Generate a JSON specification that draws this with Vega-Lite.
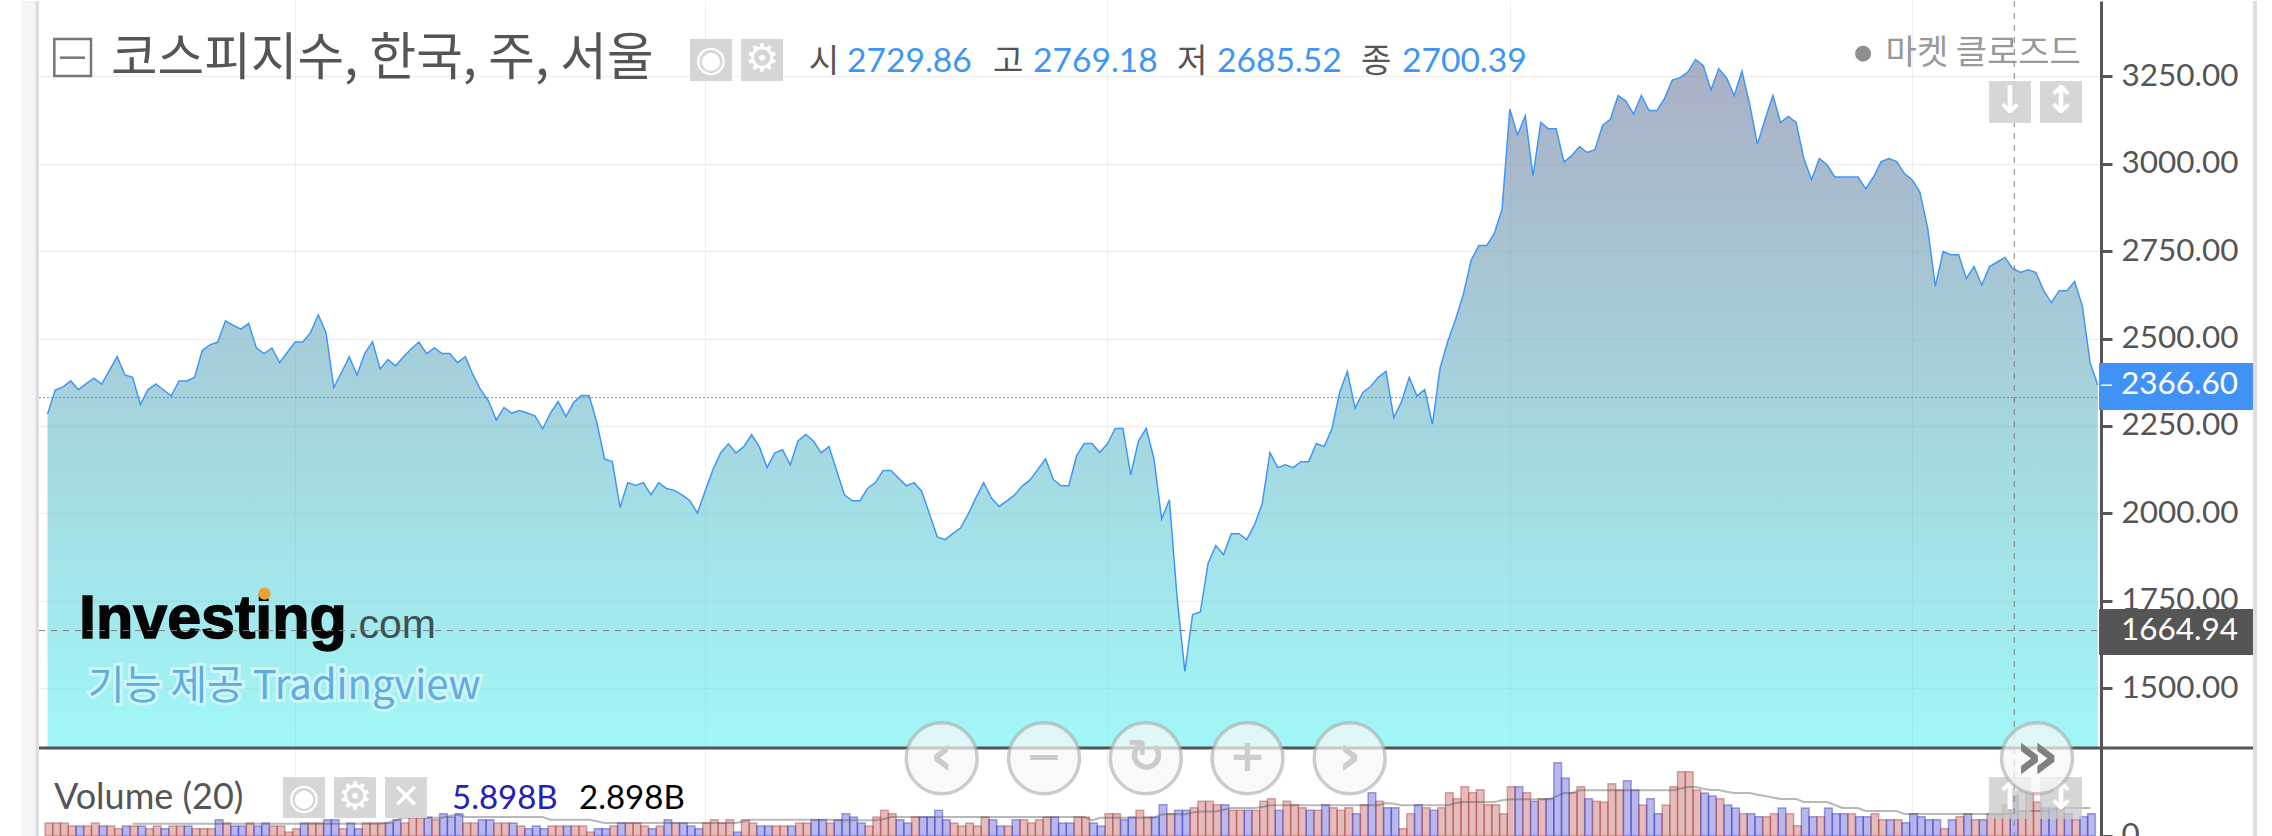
{"$schema":"https://vega.github.io/schema/vega-lite/v6.json","background":"#ffffff","padding":{"left":20,"top":0,"right":0,"bottom":0},"bounds":"flush","spacing":0,"config":{"view":{"stroke":null},"axis":{"labelFont":"Lato","labelFontSize":31.5,"labelColor":"#555555","domainColor":"#555555","domainWidth":3,"tickColor":"#555555","tickWidth":3,"tickSize":11,"labelPadding":9}},
"datasets":{"one":[{}],"weekly":[
{"week":0,"date":"2017-05-22","close":2284,"volume":1.84,"dir":"up"},{"week":1,"date":"2017-05-29","close":2353,"volume":1.84,"dir":"up"},{"week":2,"date":"2017-06-05","close":2362,"volume":1.84,"dir":"up"},{"week":3,"date":"2017-06-12","close":2379,"volume":1.40,"dir":"up"},{"week":4,"date":"2017-06-19","close":2354,"volume":1.40,"dir":"down"},{"week":5,"date":"2017-06-26","close":2371,"volume":1.40,"dir":"up"},{"week":6,"date":"2017-07-03","close":2387,"volume":1.84,"dir":"up"},{"week":7,"date":"2017-07-10","close":2370,"volume":1.40,"dir":"down"},{"week":8,"date":"2017-07-17","close":2409,"volume":1.40,"dir":"up"},{"week":9,"date":"2017-07-24","close":2449,"volume":1.01,"dir":"up"},
{"week":10,"date":"2017-07-31","close":2396,"volume":1.40,"dir":"down"},{"week":11,"date":"2017-08-07","close":2389,"volume":1.40,"dir":"up","ma":1.74},{"week":12,"date":"2017-08-14","close":2312,"volume":1.40,"dir":"down","ma":1.74},{"week":13,"date":"2017-08-21","close":2354,"volume":1.01,"dir":"up","ma":1.74},{"week":14,"date":"2017-08-28","close":2370,"volume":1.40,"dir":"up","ma":1.74},{"week":15,"date":"2017-09-04","close":2353,"volume":1.01,"dir":"down","ma":1.74},{"week":16,"date":"2017-09-11","close":2336,"volume":1.40,"dir":"up","ma":1.74},{"week":17,"date":"2017-09-18","close":2379,"volume":1.40,"dir":"up","ma":1.74},{"week":18,"date":"2017-09-25","close":2379,"volume":1.40,"dir":"down","ma":1.74},{"week":19,"date":"2017-10-02","close":2389,"volume":1.01,"dir":"up","ma":1.74},
{"week":20,"date":"2017-10-09","close":2466,"volume":1.01,"dir":"up","ma":1.74},{"week":21,"date":"2017-10-16","close":2482,"volume":1.01,"dir":"up","ma":1.74},{"week":22,"date":"2017-10-23","close":2490,"volume":2.34,"dir":"down","ma":1.74},{"week":23,"date":"2017-10-30","close":2551,"volume":1.84,"dir":"up","ma":1.74},{"week":24,"date":"2017-11-06","close":2538,"volume":1.40,"dir":"down","ma":1.74},{"week":25,"date":"2017-11-13","close":2527,"volume":1.40,"dir":"down","ma":1.74},{"week":26,"date":"2017-11-20","close":2543,"volume":1.84,"dir":"up","ma":1.74},{"week":27,"date":"2017-11-27","close":2473,"volume":1.40,"dir":"down","ma":1.74},{"week":28,"date":"2017-12-04","close":2457,"volume":1.84,"dir":"down","ma":1.74},{"week":29,"date":"2017-12-11","close":2473,"volume":1.40,"dir":"up","ma":1.74},
{"week":30,"date":"2017-12-18","close":2431,"volume":1.40,"dir":"up","ma":1.74},{"week":31,"date":"2017-12-25","close":2461,"volume":0.52,"dir":"up","ma":1.74},{"week":32,"date":"2018-01-01","close":2490,"volume":1.01,"dir":"up","ma":1.74},{"week":33,"date":"2018-01-08","close":2490,"volume":1.84,"dir":"down","ma":1.74},{"week":34,"date":"2018-01-15","close":2517,"volume":1.84,"dir":"up","ma":1.74},{"week":35,"date":"2018-01-22","close":2568,"volume":1.84,"dir":"up","ma":1.74},{"week":36,"date":"2018-01-29","close":2517,"volume":2.34,"dir":"down","ma":1.74},{"week":37,"date":"2018-02-05","close":2360,"volume":2.34,"dir":"down","ma":1.74},{"week":38,"date":"2018-02-12","close":2403,"volume":1.01,"dir":"up","ma":1.74},{"week":39,"date":"2018-02-19","close":2448,"volume":1.84,"dir":"down","ma":1.74},
{"week":40,"date":"2018-02-26","close":2396,"volume":1.01,"dir":"down","ma":1.74},{"week":41,"date":"2018-03-05","close":2457,"volume":1.84,"dir":"up","ma":1.74},{"week":42,"date":"2018-03-12","close":2491,"volume":1.84,"dir":"up","ma":1.74},{"week":43,"date":"2018-03-19","close":2413,"volume":1.84,"dir":"up","ma":1.74},{"week":44,"date":"2018-03-26","close":2440,"volume":1.84,"dir":"down","ma":1.9},{"week":45,"date":"2018-04-02","close":2422,"volume":2.34,"dir":"down","ma":2.24},{"week":46,"date":"2018-04-09","close":2448,"volume":1.84,"dir":"up","ma":2.63},{"week":47,"date":"2018-04-16","close":2470,"volume":2.73,"dir":"up","ma":2.63},{"week":48,"date":"2018-04-23","close":2490,"volume":2.73,"dir":"up","ma":2.63},{"week":49,"date":"2018-04-30","close":2457,"volume":2.73,"dir":"down","ma":2.63},
{"week":50,"date":"2018-05-07","close":2473,"volume":2.34,"dir":"up","ma":2.63},{"week":51,"date":"2018-05-14","close":2457,"volume":3.22,"dir":"down","ma":2.63},{"week":52,"date":"2018-05-21","close":2457,"volume":2.73,"dir":"down","ma":2.9},{"week":53,"date":"2018-05-28","close":2431,"volume":3.22,"dir":"down","ma":3.07},{"week":54,"date":"2018-06-04","close":2448,"volume":1.84,"dir":"up","ma":2.73},{"week":55,"date":"2018-06-11","close":2396,"volume":1.84,"dir":"up","ma":2.73},{"week":56,"date":"2018-06-18","close":2353,"volume":2.34,"dir":"down","ma":2.73},{"week":57,"date":"2018-06-25","close":2322,"volume":2.34,"dir":"down","ma":2.73},{"week":58,"date":"2018-07-02","close":2267,"volume":1.84,"dir":"up","ma":2.73},{"week":59,"date":"2018-07-09","close":2303,"volume":1.84,"dir":"up","ma":2.73},
{"week":60,"date":"2018-07-16","close":2287,"volume":1.84,"dir":"down","ma":2.73},{"week":61,"date":"2018-07-23","close":2294,"volume":1.40,"dir":"up","ma":2.73},{"week":62,"date":"2018-07-30","close":2287,"volume":1.01,"dir":"down","ma":2.73},{"week":63,"date":"2018-08-06","close":2279,"volume":1.40,"dir":"down","ma":2.73},{"week":64,"date":"2018-08-13","close":2242,"volume":1.01,"dir":"down","ma":2.73},{"week":65,"date":"2018-08-20","close":2287,"volume":1.40,"dir":"up","ma":2.34},{"week":66,"date":"2018-08-27","close":2320,"volume":1.40,"dir":"up","ma":2.34},{"week":67,"date":"2018-09-03","close":2277,"volume":1.40,"dir":"down","ma":2.34},{"week":68,"date":"2018-09-10","close":2317,"volume":1.40,"dir":"up","ma":2.34},{"week":69,"date":"2018-09-17","close":2337,"volume":1.40,"dir":"up","ma":2.34},
{"week":70,"date":"2018-09-24","close":2337,"volume":0.52,"dir":"up","ma":2.34},{"week":71,"date":"2018-10-01","close":2260,"volume":1.01,"dir":"down","ma":2.1},{"week":72,"date":"2018-10-08","close":2156,"volume":1.01,"dir":"down","ma":1.84},{"week":73,"date":"2018-10-15","close":2148,"volume":1.40,"dir":"up","ma":1.84},{"week":74,"date":"2018-10-22","close":2017,"volume":1.84,"dir":"down","ma":1.84},{"week":75,"date":"2018-10-29","close":2088,"volume":1.84,"dir":"up","ma":1.84},{"week":76,"date":"2018-11-05","close":2080,"volume":1.84,"dir":"up","ma":1.84},{"week":77,"date":"2018-11-12","close":2088,"volume":1.40,"dir":"up","ma":1.84},{"week":78,"date":"2018-11-19","close":2053,"volume":1.01,"dir":"down","ma":1.84},{"week":79,"date":"2018-11-26","close":2088,"volume":1.40,"dir":"up","ma":1.84},
{"week":80,"date":"2018-12-03","close":2071,"volume":2.34,"dir":"down","ma":1.84},{"week":81,"date":"2018-12-10","close":2066,"volume":1.84,"dir":"up","ma":1.84},{"week":82,"date":"2018-12-17","close":2053,"volume":1.84,"dir":"down","ma":1.84},{"week":83,"date":"2018-12-24","close":2037,"volume":1.40,"dir":"down","ma":1.84},{"week":84,"date":"2018-12-31","close":2001,"volume":1.01,"dir":"down","ma":1.84},{"week":85,"date":"2019-01-07","close":2064,"volume":1.84,"dir":"up","ma":1.84},{"week":86,"date":"2019-01-14","close":2125,"volume":2.34,"dir":"up","ma":1.84},{"week":87,"date":"2019-01-21","close":2173,"volume":1.84,"dir":"up","ma":1.84},{"week":88,"date":"2019-01-28","close":2199,"volume":2.34,"dir":"up","ma":1.84},{"week":89,"date":"2019-02-04","close":2173,"volume":0.52,"dir":"down","ma":1.84},
{"week":90,"date":"2019-02-11","close":2191,"volume":2.34,"dir":"up","ma":2.1},{"week":91,"date":"2019-02-18","close":2225,"volume":1.84,"dir":"up","ma":2.34},{"week":92,"date":"2019-02-25","close":2191,"volume":1.40,"dir":"down","ma":2.34},{"week":93,"date":"2019-03-04","close":2131,"volume":1.40,"dir":"down","ma":2.34},{"week":94,"date":"2019-03-11","close":2173,"volume":1.40,"dir":"up","ma":2.34},{"week":95,"date":"2019-03-18","close":2182,"volume":1.40,"dir":"up","ma":2.34},{"week":96,"date":"2019-03-25","close":2139,"volume":1.40,"dir":"down","ma":2.34},{"week":97,"date":"2019-04-01","close":2207,"volume":1.84,"dir":"up","ma":2.34},{"week":98,"date":"2019-04-08","close":2226,"volume":1.84,"dir":"up","ma":2.34},{"week":99,"date":"2019-04-15","close":2207,"volume":2.34,"dir":"down","ma":2.34},
{"week":100,"date":"2019-04-22","close":2173,"volume":2.34,"dir":"down","ma":2.34},{"week":101,"date":"2019-04-29","close":2191,"volume":1.84,"dir":"up","ma":2.34},{"week":102,"date":"2019-05-06","close":2122,"volume":2.34,"dir":"down","ma":2.24},{"week":103,"date":"2019-05-13","close":2053,"volume":3.22,"dir":"down","ma":2.24},{"week":104,"date":"2019-05-20","close":2036,"volume":2.73,"dir":"down","ma":2.24},{"week":105,"date":"2019-05-27","close":2036,"volume":1.84,"dir":"down","ma":2.24},{"week":106,"date":"2019-06-03","close":2072,"volume":1.40,"dir":"up","ma":2.24},{"week":107,"date":"2019-06-10","close":2088,"volume":2.73,"dir":"up","ma":2.24},{"week":108,"date":"2019-06-17","close":2123,"volume":3.71,"dir":"up","ma":2.4},{"week":109,"date":"2019-06-24","close":2123,"volume":3.22,"dir":"up","ma":2.73},
{"week":110,"date":"2019-07-01","close":2101,"volume":2.34,"dir":"down","ma":2.73},{"week":111,"date":"2019-07-08","close":2079,"volume":1.84,"dir":"down","ma":2.73},{"week":112,"date":"2019-07-15","close":2088,"volume":2.73,"dir":"up","ma":2.73},{"week":113,"date":"2019-07-22","close":2063,"volume":2.73,"dir":"down","ma":2.73},{"week":114,"date":"2019-07-29","close":1998,"volume":2.73,"dir":"down","ma":2.73},{"week":115,"date":"2019-08-05","close":1933,"volume":3.71,"dir":"down","ma":2.73},{"week":116,"date":"2019-08-12","close":1925,"volume":2.34,"dir":"down","ma":2.73},{"week":117,"date":"2019-08-19","close":1942,"volume":1.84,"dir":"up","ma":2.73},{"week":118,"date":"2019-08-26","close":1958,"volume":1.40,"dir":"up","ma":2.73},{"week":119,"date":"2019-09-02","close":1998,"volume":1.84,"dir":"up","ma":2.73},
{"week":120,"date":"2019-09-09","close":2045,"volume":1.40,"dir":"up","ma":2.73},{"week":121,"date":"2019-09-16","close":2088,"volume":2.73,"dir":"up","ma":2.73},{"week":122,"date":"2019-09-23","close":2044,"volume":2.34,"dir":"down","ma":2.73},{"week":123,"date":"2019-09-30","close":2020,"volume":1.40,"dir":"down","ma":2.73},{"week":124,"date":"2019-10-07","close":2036,"volume":1.40,"dir":"up","ma":2.73},{"week":125,"date":"2019-10-14","close":2053,"volume":2.34,"dir":"down","ma":2.73},{"week":126,"date":"2019-10-21","close":2079,"volume":2.34,"dir":"up","ma":2.73},{"week":127,"date":"2019-10-28","close":2096,"volume":1.84,"dir":"up","ma":2.73},{"week":128,"date":"2019-11-04","close":2126,"volume":2.34,"dir":"up","ma":2.73},{"week":129,"date":"2019-11-11","close":2156,"volume":2.73,"dir":"up","ma":2.73},
{"week":130,"date":"2019-11-18","close":2097,"volume":2.73,"dir":"down","ma":2.73},{"week":131,"date":"2019-11-25","close":2079,"volume":1.84,"dir":"down","ma":2.73},{"week":132,"date":"2019-12-02","close":2079,"volume":1.84,"dir":"down","ma":2.73},{"week":133,"date":"2019-12-09","close":2165,"volume":2.73,"dir":"up","ma":2.73},{"week":134,"date":"2019-12-16","close":2200,"volume":2.73,"dir":"up","ma":2.73},{"week":135,"date":"2019-12-23","close":2200,"volume":1.84,"dir":"down","ma":2.24},{"week":136,"date":"2019-12-30","close":2174,"volume":1.40,"dir":"down","ma":2.63},{"week":137,"date":"2020-01-06","close":2200,"volume":3.22,"dir":"up","ma":2.63},{"week":138,"date":"2020-01-13","close":2243,"volume":3.22,"dir":"up","ma":2.63},{"week":139,"date":"2020-01-20","close":2243,"volume":2.34,"dir":"down","ma":2.63},
{"week":140,"date":"2020-01-27","close":2110,"volume":2.73,"dir":"down","ma":2.63},{"week":141,"date":"2020-02-03","close":2207,"volume":3.71,"dir":"up","ma":2.63},{"week":142,"date":"2020-02-10","close":2243,"volume":2.73,"dir":"up","ma":2.63},{"week":143,"date":"2020-02-17","close":2157,"volume":2.73,"dir":"down","ma":2.63},{"week":144,"date":"2020-02-24","close":1984,"volume":4.55,"dir":"down","ma":3.12},{"week":145,"date":"2020-03-02","close":2039,"volume":3.22,"dir":"up","ma":3.12},{"week":146,"date":"2020-03-09","close":1759,"volume":3.71,"dir":"down","ma":3.12},{"week":147,"date":"2020-03-16","close":1548,"volume":3.71,"dir":"down","ma":3.12},{"week":148,"date":"2020-03-23","close":1711,"volume":4.11,"dir":"up","ma":3.4},{"week":149,"date":"2020-03-30","close":1718,"volume":5.04,"dir":"up","ma":3.56},
{"week":150,"date":"2020-04-06","close":1857,"volume":5.04,"dir":"up","ma":3.56},{"week":151,"date":"2020-04-13","close":1908,"volume":4.55,"dir":"up","ma":3.56},{"week":152,"date":"2020-04-20","close":1882,"volume":4.55,"dir":"down","ma":3.8},{"week":153,"date":"2020-04-27","close":1942,"volume":3.71,"dir":"up","ma":4.06},{"week":154,"date":"2020-05-04","close":1942,"volume":3.71,"dir":"up","ma":4.06},{"week":155,"date":"2020-05-11","close":1925,"volume":3.71,"dir":"down","ma":4.06},{"week":156,"date":"2020-05-18","close":1967,"volume":3.71,"dir":"up","ma":4.06},{"week":157,"date":"2020-05-25","close":2028,"volume":5.04,"dir":"up","ma":4.2},{"week":158,"date":"2020-06-01","close":2174,"volume":5.43,"dir":"up","ma":4.45},{"week":159,"date":"2020-06-08","close":2131,"volume":3.71,"dir":"down","ma":4.45},
{"week":160,"date":"2020-06-15","close":2139,"volume":5.04,"dir":"up","ma":4.45},{"week":161,"date":"2020-06-22","close":2131,"volume":4.55,"dir":"up","ma":4.45},{"week":162,"date":"2020-06-29","close":2148,"volume":4.11,"dir":"up","ma":4.45},{"week":163,"date":"2020-07-06","close":2148,"volume":3.71,"dir":"down","ma":4.45},{"week":164,"date":"2020-07-13","close":2200,"volume":3.71,"dir":"up","ma":4.45},{"week":165,"date":"2020-07-20","close":2191,"volume":4.55,"dir":"down","ma":4.45},{"week":166,"date":"2020-07-27","close":2241,"volume":4.11,"dir":"up","ma":4.45},{"week":167,"date":"2020-08-03","close":2346,"volume":3.71,"dir":"up","ma":4.45},{"week":168,"date":"2020-08-10","close":2406,"volume":4.11,"dir":"up","ma":4.45},{"week":169,"date":"2020-08-17","close":2301,"volume":3.22,"dir":"down","ma":4.45},
{"week":170,"date":"2020-08-24","close":2346,"volume":4.55,"dir":"up","ma":4.45},{"week":171,"date":"2020-08-31","close":2363,"volume":6.32,"dir":"down","ma":4.45},{"week":172,"date":"2020-09-07","close":2389,"volume":5.04,"dir":"up","ma":4.45},{"week":173,"date":"2020-09-14","close":2406,"volume":4.11,"dir":"down","ma":4.8},{"week":174,"date":"2020-09-21","close":2274,"volume":4.11,"dir":"down","ma":4.7},{"week":175,"date":"2020-09-28","close":2319,"volume":1.01,"dir":"up","ma":4.45},{"week":176,"date":"2020-10-05","close":2389,"volume":3.22,"dir":"up","ma":4.45},{"week":177,"date":"2020-10-12","close":2336,"volume":4.55,"dir":"down","ma":4.45},{"week":178,"date":"2020-10-19","close":2354,"volume":4.11,"dir":"up","ma":4.45},{"week":179,"date":"2020-10-26","close":2255,"volume":3.71,"dir":"down","ma":4.45},
{"week":180,"date":"2020-11-02","close":2417,"volume":4.11,"dir":"up","ma":4.45},{"week":181,"date":"2020-11-09","close":2493,"volume":6.32,"dir":"up","ma":4.45},{"week":182,"date":"2020-11-16","close":2555,"volume":5.43,"dir":"up","ma":4.8},{"week":183,"date":"2020-11-23","close":2627,"volume":7.20,"dir":"up","ma":4.94},{"week":184,"date":"2020-11-30","close":2724,"volume":6.32,"dir":"up","ma":4.94},{"week":185,"date":"2020-12-07","close":2766,"volume":6.76,"dir":"up","ma":4.94},{"week":186,"date":"2020-12-14","close":2766,"volume":4.55,"dir":"up","ma":4.94},{"week":187,"date":"2020-12-21","close":2801,"volume":4.55,"dir":"up","ma":4.94},{"week":188,"date":"2020-12-28","close":2870,"volume":3.22,"dir":"up","ma":5.2},{"week":189,"date":"2021-01-04","close":3156,"volume":7.20,"dir":"up","ma":5.34},
{"week":190,"date":"2021-01-11","close":3082,"volume":7.20,"dir":"down","ma":5.34},{"week":191,"date":"2021-01-18","close":3137,"volume":6.32,"dir":"up","ma":5.34},{"week":192,"date":"2021-01-25","close":2965,"volume":5.04,"dir":"down","ma":5.34},{"week":193,"date":"2021-02-01","close":3118,"volume":5.43,"dir":"up","ma":5.34},{"week":194,"date":"2021-02-08","close":3100,"volume":5.43,"dir":"down","ma":5.34},{"week":195,"date":"2021-02-15","close":3100,"volume":10.74,"dir":"down","ma":5.78},{"week":196,"date":"2021-02-22","close":3005,"volume":8.48,"dir":"down","ma":6.27},{"week":197,"date":"2021-03-01","close":3023,"volume":6.32,"dir":"up","ma":6.27},{"week":198,"date":"2021-03-08","close":3049,"volume":7.20,"dir":"up","ma":6.66},{"week":199,"date":"2021-03-15","close":3032,"volume":5.43,"dir":"down","ma":6.66},
{"week":200,"date":"2021-03-22","close":3040,"volume":5.04,"dir":"up","ma":6.66},{"week":201,"date":"2021-03-29","close":3110,"volume":4.94,"dir":"up","ma":6.66},{"week":202,"date":"2021-04-05","close":3127,"volume":7.65,"dir":"up","ma":6.66},{"week":203,"date":"2021-04-12","close":3195,"volume":6.71,"dir":"up","ma":6.66},{"week":204,"date":"2021-04-19","close":3179,"volume":8.09,"dir":"down","ma":6.66},{"week":205,"date":"2021-04-26","close":3142,"volume":6.71,"dir":"down","ma":6.66},{"week":206,"date":"2021-05-03","close":3195,"volume":4.50,"dir":"up","ma":6.66},{"week":207,"date":"2021-05-10","close":3152,"volume":5.43,"dir":"down","ma":6.66},{"week":208,"date":"2021-05-17","close":3152,"volume":3.22,"dir":"down","ma":6.66},{"week":209,"date":"2021-05-24","close":3187,"volume":4.50,"dir":"up","ma":6.66},
{"week":210,"date":"2021-05-31","close":3239,"volume":7.20,"dir":"up","ma":6.66},{"week":211,"date":"2021-06-07","close":3246,"volume":9.41,"dir":"up","ma":6.9},{"week":212,"date":"2021-06-14","close":3262,"volume":9.41,"dir":"up","ma":7.15},{"week":213,"date":"2021-06-21","close":3298,"volume":6.71,"dir":"up","ma":7.15},{"week":214,"date":"2021-06-28","close":3281,"volume":6.27,"dir":"down","ma":6.9},{"week":215,"date":"2021-07-05","close":3211,"volume":5.83,"dir":"down","ma":6.71},{"week":216,"date":"2021-07-12","close":3272,"volume":5.43,"dir":"up","ma":6.71},{"week":217,"date":"2021-07-19","close":3246,"volume":4.50,"dir":"down","ma":6.45},{"week":218,"date":"2021-07-26","close":3195,"volume":4.06,"dir":"down","ma":6.27},{"week":219,"date":"2021-08-02","close":3265,"volume":3.22,"dir":"up","ma":6.27},
{"week":220,"date":"2021-08-09","close":3170,"volume":3.22,"dir":"down","ma":6.27},{"week":221,"date":"2021-08-16","close":3056,"volume":2.78,"dir":"down","ma":6.0},{"week":222,"date":"2021-08-23","close":3127,"volume":2.78,"dir":"up","ma":5.83},{"week":223,"date":"2021-08-30","close":3195,"volume":3.22,"dir":"up","ma":5.6},{"week":224,"date":"2021-09-06","close":3118,"volume":4.06,"dir":"down","ma":5.39},{"week":225,"date":"2021-09-13","close":3135,"volume":3.22,"dir":"up","ma":5.39},{"week":226,"date":"2021-09-20","close":3118,"volume":1.45,"dir":"up","ma":5.39},{"week":227,"date":"2021-09-27","close":3015,"volume":4.06,"dir":"down","ma":4.94},{"week":228,"date":"2021-10-04","close":2954,"volume":2.78,"dir":"down","ma":4.94},{"week":229,"date":"2021-10-11","close":3015,"volume":2.78,"dir":"up","ma":4.94},
{"week":230,"date":"2021-10-18","close":2997,"volume":4.06,"dir":"down","ma":4.94},{"week":231,"date":"2021-10-25","close":2962,"volume":3.22,"dir":"down","ma":4.5},{"week":232,"date":"2021-11-01","close":2962,"volume":3.22,"dir":"down","ma":4.06},{"week":233,"date":"2021-11-08","close":2962,"volume":3.22,"dir":"up","ma":4.06},{"week":234,"date":"2021-11-15","close":2962,"volume":2.78,"dir":"down","ma":4.06},{"week":235,"date":"2021-11-22","close":2928,"volume":2.78,"dir":"down","ma":3.61},{"week":236,"date":"2021-11-29","close":2962,"volume":3.22,"dir":"up","ma":3.61},{"week":237,"date":"2021-12-06","close":3006,"volume":2.34,"dir":"up","ma":3.61},{"week":238,"date":"2021-12-13","close":3015,"volume":2.34,"dir":"down","ma":3.61},{"week":239,"date":"2021-12-20","close":3006,"volume":2.34,"dir":"up","ma":3.61},
{"week":240,"date":"2021-12-27","close":2972,"volume":1.89,"dir":"down","ma":3.17},{"week":241,"date":"2022-01-03","close":2954,"volume":3.22,"dir":"down","ma":3.17},{"week":242,"date":"2022-01-10","close":2919,"volume":2.78,"dir":"down","ma":3.17},{"week":243,"date":"2022-01-17","close":2817,"volume":2.34,"dir":"down","ma":3.17},{"week":244,"date":"2022-01-24","close":2649,"volume":2.34,"dir":"down","ma":3.17},{"week":245,"date":"2022-01-31","close":2749,"volume":1.01,"dir":"up","ma":3.17},{"week":246,"date":"2022-02-07","close":2740,"volume":2.34,"dir":"down","ma":3.17},{"week":247,"date":"2022-02-14","close":2740,"volume":2.78,"dir":"up","ma":3.17},{"week":248,"date":"2022-02-21","close":2672,"volume":3.22,"dir":"down","ma":3.17},{"week":249,"date":"2022-02-28","close":2706,"volume":2.34,"dir":"up","ma":3.17},
{"week":250,"date":"2022-03-07","close":2653,"volume":2.34,"dir":"down","ma":3.17},{"week":251,"date":"2022-03-14","close":2706,"volume":3.22,"dir":"up","ma":3.17},{"week":252,"date":"2022-03-21","close":2719,"volume":3.22,"dir":"up","ma":3.17},{"week":253,"date":"2022-03-28","close":2732,"volume":4.50,"dir":"up","ma":3.17},{"week":254,"date":"2022-04-04","close":2700.39,"volume":5.898,"dir":"down","ma":3.17},{"week":255,"date":"2022-04-11","close":2689,"volume":3.61,"dir":"up","ma":3.61},{"week":256,"date":"2022-04-18","close":2697,"volume":6.32,"dir":"up","ma":3.61},{"week":257,"date":"2022-04-25","close":2689,"volume":4.94,"dir":"up","ma":3.61},{"week":258,"date":"2022-05-02","close":2637,"volume":4.06,"dir":"down","ma":3.61},{"week":259,"date":"2022-05-09","close":2603,"volume":4.06,"dir":"down","ma":3.61},
{"week":260,"date":"2022-05-16","close":2637,"volume":4.06,"dir":"up","ma":4.06},{"week":261,"date":"2022-05-23","close":2637,"volume":3.22,"dir":"down","ma":4.06},{"week":262,"date":"2022-05-30","close":2663,"volume":2.34,"dir":"up","ma":4.06},{"week":263,"date":"2022-06-06","close":2593,"volume":2.78,"dir":"down","ma":4.06},{"week":264,"date":"2022-06-13","close":2431,"volume":3.22,"dir":"down","ma":4.06},{"week":265,"date":"2022-06-20","close":2366.6}
]},
"vconcat":[
{"width":2062,"height":747,
"layer":[
{"data":{"name":"weekly"},"mark":{"type":"area","color":{"gradient":"linear","x1":0,"y1":0,"x2":0,"y2":1,"stops":[{"offset":0,"color":"rgba(85,97,139,0.5)"},{"offset":1,"color":"rgba(67,239,239,0.5)"}]}},"encoding":{"x":{"field":"week","type":"quantitative","title":null,"scale":{"domain":[-1.1,265.41],"nice":false,"zero":false},"axis":{"values":[32,85,137,189,241],"labels":false,"ticks":false,"domain":false,"grid":true,"gridColor":"#efefef","gridWidth":1,"title":null}},"y":{"field":"close","type":"quantitative","title":null,"scale":{"domain":[1329.2,3465.3],"nice":false,"zero":false},"axis":{"orient":"right","values":[1500,1750,2000,2250,2500,2750,3000,3250],"format":".2f","grid":true,"gridColor":"#efefef","gridWidth":1.5,"title":null}},"y2":{"datum":1329.2}}},
{"data":{"name":"weekly"},"mark":{"type":"line","color":"#3f97f5","strokeWidth":1.5},"encoding":{"x":{"field":"week","type":"quantitative"},"y":{"field":"close","type":"quantitative"}}},
{"data":{"name":"one"},"mark":{"type":"rect","fill":"#f4f5f7"},"encoding":{"x":{"datum":-3.43},"x2":{"datum":-1.55},"y":{"datum":1329.2},"y2":{"datum":3465.3}}},
{"data":{"name":"one"},"mark":{"type":"rect","fill":"#dcdde1"},"encoding":{"x":{"datum":-1.55},"x2":{"datum":-1.1},"y":{"datum":1329.2},"y2":{"datum":3465.3}}},
{"data":{"name":"one"},"mark":{"type":"rect","fill":"#dcdde1"},"encoding":{"x":{"datum":285.05},"x2":{"datum":285.57},"y":{"datum":1329.2},"y2":{"datum":3465.3}}},
{"data":{"name":"one"},"mark":{"type":"text","text":"Investing","font":"Liberation Sans","fontWeight":"bold","fontSize":61,"fill":"#050505","stroke":"#050505","strokeWidth":1.5,"align":"left","baseline":"alphabetic"},"encoding":{"x":{"datum":4.07},"y":{"datum":1644.6}}},
{"data":{"name":"one"},"mark":{"type":"text","text":".com","font":"Liberation Sans","fontSize":41,"fill":"#3f5056","align":"left","baseline":"alphabetic"},"encoding":{"x":{"datum":38.71},"y":{"datum":1644.6}}},
{"data":{"name":"one"},"mark":{"type":"point","filled":true,"color":"#f0a030","size":150,"opacity":1},"encoding":{"x":{"datum":28.06},"y":{"datum":1770.4}}},
{"data":{"name":"one"},"mark":{"type":"text","text":"기능 제공 Tradingview","font":"Noto Sans CJK KR","fontSize":40,"stroke":"#cdf6f9","strokeWidth":6,"fill":"#cdf6f9","align":"left","baseline":"alphabetic"},"encoding":{"x":{"datum":5.2},"y":{"datum":1469.3}}},
{"data":{"name":"one"},"mark":{"type":"text","text":"기능 제공 Tradingview","font":"Noto Sans CJK KR","fontSize":40,"fill":"#62ace0","align":"left","baseline":"alphabetic"},"encoding":{"x":{"datum":5.2},"y":{"datum":1469.3}}},
{"data":{"name":"one"},"mark":{"type":"rule","color":"#3d95f5","strokeWidth":1,"strokeDash":[2,2]},"encoding":{"x":{"datum":-1.1},"x2":{"datum":265},"y":{"datum":2331}}},
{"data":{"name":"one"},"mark":{"type":"rule","color":"#808080","strokeWidth":1,"strokeDash":[6,6]},"encoding":{"x":{"datum":-1.1},"x2":{"datum":265},"y":{"datum":1664.94}}},
{"data":{"name":"one"},"mark":{"type":"rule","color":"#808080","strokeWidth":1,"strokeDash":[6,6]},"encoding":{"x":{"datum":254.2}}},
{"data":{"name":"one"},"mark":{"type":"rect","fill":"none","stroke":"#777777","strokeWidth":2.5},"encoding":{"x":{"datum":0.88},"x2":{"datum":5.62},"y":{"datum":3250.9},"y2":{"datum":3356.7}}},
{"data":{"name":"one"},"mark":{"type":"rule","color":"#777777","strokeWidth":2.5},"encoding":{"x":{"datum":1.6},"x2":{"datum":4.85},"y":{"datum":3303.2}}},
{"data":{"name":"one"},"mark":{"type":"text","text":"코스피지수, 한국, 주, 서울","font":"Noto Sans CJK KR","fontSize":50.7,"fill":"#555555","align":"left","baseline":"alphabetic"},"encoding":{"x":{"datum":8.2},"y":{"datum":3253.7}}},
{"data":{"name":"one"},"mark":{"type":"rect","fill":"#d6d6d6"},"encoding":{"x":{"datum":83.04},"x2":{"datum":88.47},"y":{"datum":3236.6},"y2":{"datum":3356.7}}},
{"data":{"name":"one"},"mark":{"type":"rect","fill":"#d6d6d6"},"encoding":{"x":{"datum":89.64},"x2":{"datum":95.07},"y":{"datum":3236.6},"y2":{"datum":3356.7}}},
{"data":{"name":"one"},"mark":{"type":"text","text":"◉","font":"DejaVu Sans","fontSize":36,"fill":"#ffffff","align":"center","baseline":"middle"},"encoding":{"x":{"datum":85.76},"y":{"datum":3296.6}}},
{"data":{"name":"one"},"mark":{"type":"text","text":"⚙","font":"DejaVu Sans","fontSize":38,"fill":"#ffffff","align":"center","baseline":"middle"},"encoding":{"x":{"datum":92.35},"y":{"datum":3296.6}}},
{"data":{"name":"one"},"mark":{"type":"text","text":"시","font":"Noto Sans CJK KR","fontSize":33,"fill":"#555555","align":"left","baseline":"alphabetic"},"encoding":{"x":{"datum":98.4},"y":{"datum":3263.2}}},
{"data":{"name":"one"},"mark":{"type":"text","text":"2729.86","font":"Lato","fontSize":33.6,"fill":"#3d95f5","align":"left","baseline":"alphabetic"},"encoding":{"x":{"datum":103.33},"y":{"datum":3263.2}}},
{"data":{"name":"one"},"mark":{"type":"text","text":"고","font":"Noto Sans CJK KR","fontSize":33,"fill":"#555555","align":"left","baseline":"alphabetic"},"encoding":{"x":{"datum":122.2},"y":{"datum":3263.2}}},
{"data":{"name":"one"},"mark":{"type":"text","text":"2769.18","font":"Lato","fontSize":33.6,"fill":"#3d95f5","align":"left","baseline":"alphabetic"},"encoding":{"x":{"datum":127.37},"y":{"datum":3263.2}}},
{"data":{"name":"one"},"mark":{"type":"text","text":"저","font":"Noto Sans CJK KR","fontSize":33,"fill":"#555555","align":"left","baseline":"alphabetic"},"encoding":{"x":{"datum":145.98},"y":{"datum":3263.2}}},
{"data":{"name":"one"},"mark":{"type":"text","text":"2685.52","font":"Lato","fontSize":33.6,"fill":"#3d95f5","align":"left","baseline":"alphabetic"},"encoding":{"x":{"datum":151.15},"y":{"datum":3263.2}}},
{"data":{"name":"one"},"mark":{"type":"text","text":"종","font":"Noto Sans CJK KR","fontSize":33,"fill":"#555555","align":"left","baseline":"alphabetic"},"encoding":{"x":{"datum":169.76},"y":{"datum":3263.2}}},
{"data":{"name":"one"},"mark":{"type":"text","text":"2700.39","font":"Lato","fontSize":33.6,"fill":"#3d95f5","align":"left","baseline":"alphabetic"},"encoding":{"x":{"datum":175.06},"y":{"datum":3263.2}}},
{"data":{"name":"one"},"mark":{"type":"point","filled":true,"color":"#8f8f8f","size":254,"opacity":1},"encoding":{"x":{"datum":234.66},"y":{"datum":3314.6}}},
{"data":{"name":"one"},"mark":{"type":"text","text":"마켓 클로즈드","font":"Noto Sans CJK KR","fontSize":34,"fill":"#999999","align":"left","baseline":"alphabetic"},"encoding":{"x":{"datum":237.57},"y":{"datum":3285.2}}},
{"data":{"name":"one"},"mark":{"type":"rect","fill":"#d6d6d6"},"encoding":{"x":{"datum":250.93},"x2":{"datum":256.36},"y":{"datum":3116.5},"y2":{"datum":3236.6}}},
{"data":{"name":"one"},"mark":{"type":"rect","fill":"#d6d6d6"},"encoding":{"x":{"datum":257.52},"x2":{"datum":262.95},"y":{"datum":3116.5},"y2":{"datum":3236.6}}},
{"data":{"name":"one"},"mark":{"type":"text","text":"↓","font":"DejaVu Sans","fontWeight":"bold","fontSize":38,"fill":"#ffffff","align":"center","baseline":"middle"},"encoding":{"x":{"datum":253.65},"y":{"datum":3176.5}}},
{"data":{"name":"one"},"mark":{"type":"text","text":"↕","font":"DejaVu Sans","fontWeight":"bold","fontSize":38,"fill":"#ffffff","align":"center","baseline":"middle"},"encoding":{"x":{"datum":260.24},"y":{"datum":3176.5}}},
{"data":{"name":"one"},"mark":{"type":"rect","fill":"#4192f7"},"encoding":{"x":{"datum":265.16},"x2":{"datum":285.05},"y":{"datum":2295.7},"y2":{"datum":2430.2}}},
{"data":{"name":"one"},"mark":{"type":"rule","color":"#ffffff","strokeWidth":1.5},"encoding":{"x":{"datum":265.41},"x2":{"datum":266.83},"y":{"datum":2366.6}}},
{"data":{"name":"one"},"mark":{"type":"text","text":"2366.60","font":"Lato","fontSize":31.5,"fill":"#ffffff","align":"left","baseline":"middle"},"encoding":{"x":{"datum":268},"y":{"datum":2366.6}}},
{"data":{"name":"one"},"mark":{"type":"rect","fill":"#555555"},"encoding":{"x":{"datum":265.16},"x2":{"datum":285.05},"y":{"datum":1595.2},"y2":{"datum":1726.7}}},
{"data":{"name":"one"},"mark":{"type":"text","text":"1664.94","font":"Lato","fontSize":31.5,"fill":"#ffffff","align":"left","baseline":"middle"},"encoding":{"x":{"datum":268},"y":{"datum":1664.94}}}
]},
{"width":2062,"height":89,
"layer":[
{"data":{"name":"weekly"},"transform":[{"filter":"isValid(datum.volume)"}],"mark":{"type":"bar","width":7.74,"xOffset":1.4,"fillOpacity":0.34,"strokeOpacity":0.42,"strokeWidth":1.5},"encoding":{"x":{"field":"week","type":"quantitative","title":null,"scale":{"domain":[-1.1,265.41],"nice":false,"zero":false,"padding":0},"axis":{"values":[32,85,137,189,241],"labels":false,"ticks":false,"domain":false,"grid":true,"gridColor":"#efefef","gridWidth":1,"title":null}},"y":{"field":"volume","type":"quantitative","title":null,"scale":{"domain":[-0.22,12.91],"nice":false,"zero":false},"axis":{"orient":"right","values":[0],"format":"d","grid":false,"title":null}},"fill":{"field":"dir","type":"nominal","legend":null,"scale":{"domain":["up","down"],"range":["#b03a3a","#2f2fc8"]}},"stroke":{"field":"dir","type":"nominal","legend":null,"scale":{"domain":["up","down"],"range":["#b03a3a","#2f2fc8"]}}}},
{"data":{"name":"weekly"},"transform":[{"filter":"isValid(datum.ma)"}],"mark":{"type":"line","color":"#555555","strokeWidth":2,"opacity":0.42},"encoding":{"x":{"field":"week","type":"quantitative"},"y":{"field":"ma","type":"quantitative"}}},
{"data":{"name":"one"},"mark":{"type":"rect","fill":"#f4f5f7"},"encoding":{"x":{"datum":-3.43},"x2":{"datum":-1.55},"y":{"datum":-0.22},"y2":{"datum":12.91}}},
{"data":{"name":"one"},"mark":{"type":"rect","fill":"#dcdde1"},"encoding":{"x":{"datum":-1.55},"x2":{"datum":-1.1},"y":{"datum":-0.22},"y2":{"datum":12.91}}},
{"data":{"name":"one"},"mark":{"type":"rect","fill":"#dcdde1"},"encoding":{"x":{"datum":285.05},"x2":{"datum":285.57},"y":{"datum":-0.22},"y2":{"datum":12.91}}},
{"data":{"name":"one"},"mark":{"type":"rule","color":"#555555","strokeWidth":3},"encoding":{"x":{"datum":-1.1},"x2":{"datum":285.05},"y":{"datum":12.91}}},
{"data":{"name":"one"},"mark":{"type":"rect","fill":"#c8c8c8","opacity":0.75},"encoding":{"x":{"datum":250.93},"x2":{"datum":256.36},"y":{"datum":2.43},"y2":{"datum":8.63}}},
{"data":{"name":"one"},"mark":{"type":"rect","fill":"#c8c8c8","opacity":0.75},"encoding":{"x":{"datum":257.52},"x2":{"datum":262.95},"y":{"datum":2.43},"y2":{"datum":8.63}}},
{"data":{"name":"one"},"mark":{"type":"text","text":"↑","font":"DejaVu Sans","fontWeight":"bold","fontSize":38,"fill":"#ffffff","align":"center","baseline":"middle"},"encoding":{"x":{"datum":253.65},"y":{"datum":5.53}}},
{"data":{"name":"one"},"mark":{"type":"text","text":"↕","font":"DejaVu Sans","fontWeight":"bold","fontSize":38,"fill":"#ffffff","align":"center","baseline":"middle"},"encoding":{"x":{"datum":260.24},"y":{"datum":5.53}}},
{"data":{"name":"one"},"mark":{"type":"rule","color":"#808080","strokeWidth":1,"strokeDash":[6,6]},"encoding":{"x":{"datum":254.2}}},
{"data":{"name":"one"},"mark":{"type":"text","text":"Volume (20)","font":"Lato","fontSize":36,"fill":"#555555","align":"left","baseline":"alphabetic"},"encoding":{"x":{"datum":0.84},"y":{"datum":3.9}}},
{"data":{"name":"one"},"mark":{"type":"rect","fill":"#d6d6d6"},"encoding":{"x":{"datum":30.44},"x2":{"datum":35.87},"y":{"datum":2.58},"y2":{"datum":8.63}}},
{"data":{"name":"one"},"mark":{"type":"rect","fill":"#d6d6d6"},"encoding":{"x":{"datum":37.03},"x2":{"datum":42.46},"y":{"datum":2.58},"y2":{"datum":8.63}}},
{"data":{"name":"one"},"mark":{"type":"rect","fill":"#d6d6d6"},"encoding":{"x":{"datum":43.62},"x2":{"datum":49.05},"y":{"datum":2.58},"y2":{"datum":8.63}}},
{"data":{"name":"one"},"mark":{"type":"text","text":"◉","font":"DejaVu Sans","fontSize":36,"fill":"#ffffff","align":"center","baseline":"middle"},"encoding":{"x":{"datum":33.15},"y":{"datum":5.6}}},
{"data":{"name":"one"},"mark":{"type":"text","text":"⚙","font":"DejaVu Sans","fontSize":38,"fill":"#ffffff","align":"center","baseline":"middle"},"encoding":{"x":{"datum":39.74},"y":{"datum":5.6}}},
{"data":{"name":"one"},"mark":{"type":"text","text":"✕","font":"DejaVu Sans","fontSize":34,"fill":"#ffffff","align":"center","baseline":"middle"},"encoding":{"x":{"datum":46.33},"y":{"datum":5.6}}},
{"data":{"name":"one"},"mark":{"type":"text","text":"5.898B","font":"Lato","fontSize":33,"fill":"#2222b8","align":"left","baseline":"alphabetic"},"encoding":{"x":{"datum":52.28},"y":{"datum":3.95}}},
{"data":{"name":"one"},"mark":{"type":"text","text":"2.898B","font":"Lato","fontSize":33,"fill":"#000000","align":"left","baseline":"alphabetic"},"encoding":{"x":{"datum":68.7},"y":{"datum":3.95}}},
{"data":{"name":"one"},"mark":{"type":"point","filled":true,"fill":"#f7f7f7","fillOpacity":0.72,"stroke":"#aaaaaa","strokeOpacity":0.6,"strokeWidth":3.5,"size":5027},"encoding":{"x":{"datum":115.57},"y":{"datum":11.39}}},
{"data":{"name":"one"},"mark":{"type":"point","filled":true,"fill":"#f7f7f7","fillOpacity":0.72,"stroke":"#aaaaaa","strokeOpacity":0.6,"strokeWidth":3.5,"size":5027},"encoding":{"x":{"datum":128.8},"y":{"datum":11.39}}},
{"data":{"name":"one"},"mark":{"type":"point","filled":true,"fill":"#f7f7f7","fillOpacity":0.72,"stroke":"#aaaaaa","strokeOpacity":0.6,"strokeWidth":3.5,"size":5027},"encoding":{"x":{"datum":141.95},"y":{"datum":11.39}}},
{"data":{"name":"one"},"mark":{"type":"point","filled":true,"fill":"#f7f7f7","fillOpacity":0.72,"stroke":"#aaaaaa","strokeOpacity":0.6,"strokeWidth":3.5,"size":5027},"encoding":{"x":{"datum":155.1},"y":{"datum":11.39}}},
{"data":{"name":"one"},"mark":{"type":"point","filled":true,"fill":"#f7f7f7","fillOpacity":0.72,"stroke":"#aaaaaa","strokeOpacity":0.6,"strokeWidth":3.5,"size":5027},"encoding":{"x":{"datum":168.3},"y":{"datum":11.39}}},
{"data":{"name":"one"},"mark":{"type":"point","filled":true,"fill":"#f7f7f7","fillOpacity":0.72,"stroke":"#aaaaaa","strokeOpacity":0.6,"strokeWidth":3.5,"size":5027},"encoding":{"x":{"datum":257.14},"y":{"datum":11.39}}},
{"data":{"name":"one"},"mark":{"type":"text","text":"‹","font":"DejaVu Sans","fontWeight":"bold","fontSize":58,"fill":"#cccccc","align":"center","baseline":"middle"},"encoding":{"x":{"datum":115.57},"y":{"datum":11.39}}},
{"data":{"name":"one"},"mark":{"type":"text","text":"−","font":"DejaVu Sans","fontWeight":"bold","fontSize":44,"fill":"#cccccc","align":"center","baseline":"middle"},"encoding":{"x":{"datum":128.8},"y":{"datum":11.39}}},
{"data":{"name":"one"},"mark":{"type":"text","text":"↻","font":"DejaVu Sans","fontWeight":"bold","fontSize":46,"fill":"#cccccc","align":"center","baseline":"middle"},"encoding":{"x":{"datum":141.95},"y":{"datum":11.39}}},
{"data":{"name":"one"},"mark":{"type":"text","text":"+","font":"DejaVu Sans","fontWeight":"bold","fontSize":44,"fill":"#cccccc","align":"center","baseline":"middle"},"encoding":{"x":{"datum":155.1},"y":{"datum":11.39}}},
{"data":{"name":"one"},"mark":{"type":"text","text":"›","font":"DejaVu Sans","fontWeight":"bold","fontSize":58,"fill":"#cccccc","align":"center","baseline":"middle"},"encoding":{"x":{"datum":168.3},"y":{"datum":11.39}}},
{"data":{"name":"one"},"mark":{"type":"text","text":"»","font":"DejaVu Sans","fontWeight":"bold","fontSize":70,"fill":"#808080","align":"center","baseline":"middle"},"encoding":{"x":{"datum":257.14},"y":{"datum":11.39}}}
]}
]}
